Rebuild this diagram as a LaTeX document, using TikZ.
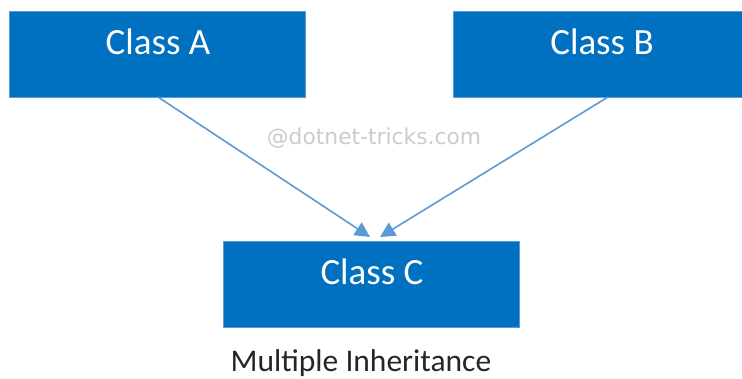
\documentclass[tikz,border=0pt]{standalone}
\usepackage{fontspec}
\setmainfont{Carlito}
\newfontfamily\wmfont{DejaVu Sans}
\usetikzlibrary{arrows.meta}
\definecolor{boxblue}{HTML}{0070C0}
\definecolor{boxedge}{HTML}{5B9BD5}
\definecolor{arrowblue}{HTML}{5B9BD5}
\definecolor{wmgray}{HTML}{CCCCCC}
\begin{document}
\begin{tikzpicture}[x=1pt,y=-1pt,
  classbox/.style={fill=boxblue,draw=boxedge,line width=0.6pt},
  classlabel/.style={text=white,anchor=base,inner sep=0pt,font=\fontsize{37}{40}\selectfont},
  inh/.style={draw=arrowblue,line width=1.6pt,-{Triangle[length=15pt,width=15pt]}}]
\useasboundingbox[fill=white] (0,0) rectangle (742,379);
\draw[classbox] (9,11) rectangle (305,97) coordinate[pos=0.5] (A);
\draw[classbox] (453,11) rectangle (749,97) coordinate[pos=0.5] (B);
\draw[classbox] (223,241) rectangle (519,327) coordinate[pos=0.5] (C);
\coordinate (Abot) at (158,97);
\coordinate (Bbot) at (608,97);
\coordinate (Ctip1) at (370,237);
\coordinate (Ctip2) at (380,237);
\node[classlabel] (la) at (158,55) {Class A};
\node[classlabel] (lb) at (602,55) {Class B};
\node[classlabel] (lc) at (372,285) {Class C};
\node[anchor=base,inner sep=0pt,text=wmgray,font=\wmfont\fontsize{21.8}{24}\selectfont] (wm) at (374,145) {@dotnet-tricks.com};
\node[anchor=base,inner sep=0pt,text=black!85,font=\fontsize{31.5}{34}\selectfont] (cap) at (361,372) {Multiple Inheritance};
\draw[inh] (Abot) -- (Ctip1);
\draw[inh] (Bbot) -- (Ctip2);
\end{tikzpicture}
\end{document}
